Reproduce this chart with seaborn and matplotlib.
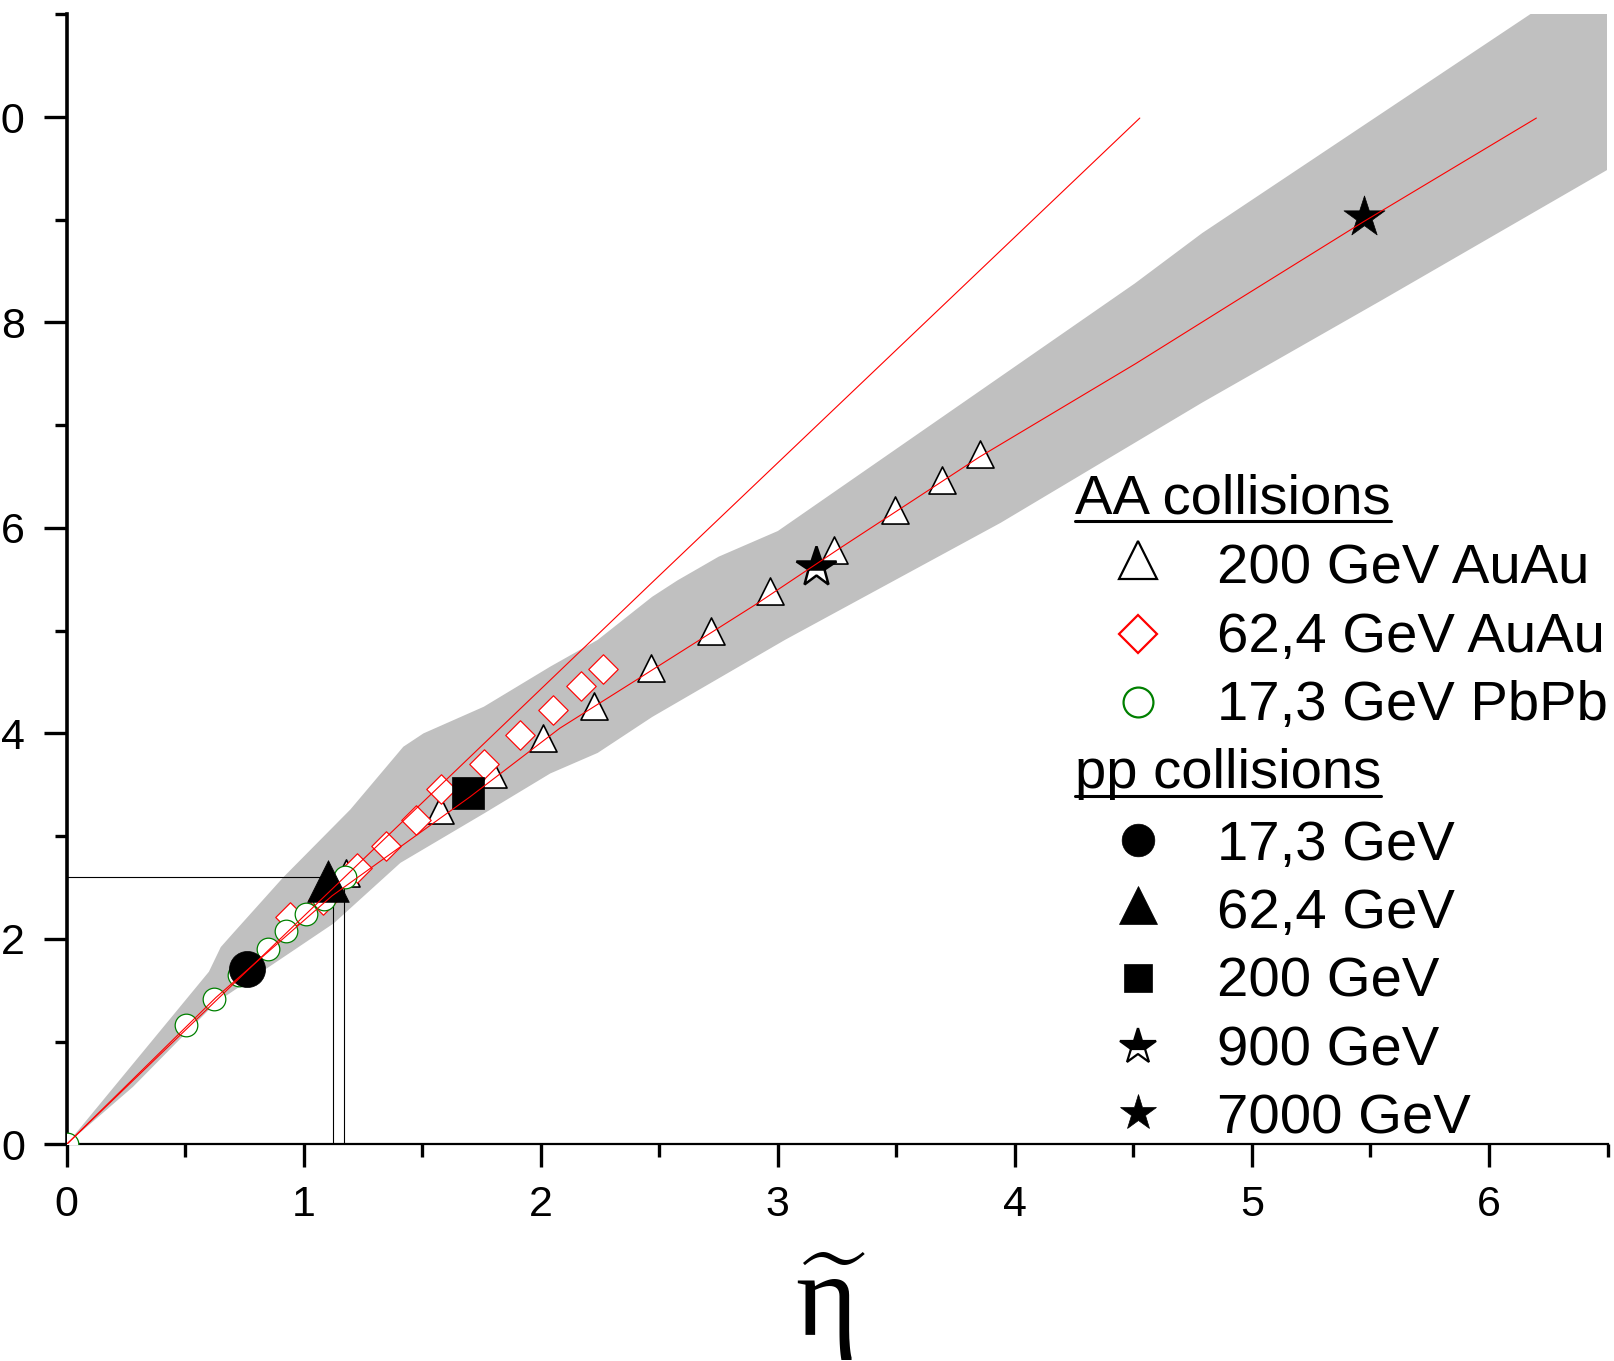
import matplotlib
matplotlib.use("Agg")
import matplotlib.pyplot as plt
import seaborn as sns
from matplotlib.transforms import Affine2D
from matplotlib.lines import Line2D
from matplotlib.ticker import MultipleLocator

# ---------------- data ----------------
band_upper_x = [0.0, 0.60, 0.65, 0.70, 0.914, 1.197, 1.42, 1.505, 1.76, 2.04, 2.24,
                2.47, 2.577, 2.675, 2.75, 3.0, 3.8, 4.506, 4.79, 6.18, 6.6]
band_upper_y = [0.0, 1.68, 1.92, 2.05, 2.60, 3.26, 3.87, 4.00, 4.26, 4.65, 4.91,
                5.33, 5.49, 5.62, 5.72, 5.97, 7.25, 8.38, 8.87, 11.01, 11.6]
band_lower_x = [0.0, 0.28, 0.63, 1.126, 1.408, 1.76, 2.04, 2.24, 2.47, 3.03, 3.94,
                4.79, 5.55, 6.51, 6.6]
band_lower_y = [0.0, 0.56, 1.38, 2.15, 2.74, 3.22, 3.61, 3.81, 4.16, 4.91, 6.05,
                7.22, 8.22, 9.50, 9.62]

fit_steep_x = [0.0, 1.0, 2.47, 4.527]
fit_steep_y = [0.0, 2.22, 5.47, 9.99]

fit_main_x = [0.0, 0.63, 1.12, 1.70, 2.08, 2.41, 2.91, 3.26, 3.85, 4.51, 4.94, 5.47, 6.20]
fit_main_y = [0.0, 1.43, 2.42, 3.38, 4.05, 4.53, 5.26, 5.80, 6.69, 7.60, 8.22, 8.98, 9.99]

ref_vline_x = [1.122, 1.170]
ref_hline_y = 2.60
ref_hline_xmax = 1.17

auau200_x = [1.18, 1.573, 1.797, 2.010, 2.225, 2.467, 2.718, 2.965, 3.236, 3.495, 3.691, 3.854]
auau200_y = [2.645, 3.250, 3.600, 3.956, 4.270, 4.640, 5.000, 5.385, 5.790, 6.173, 6.470, 6.720]

auau62_x = [0.943, 1.080, 1.225, 1.345, 1.475, 1.577, 1.760, 1.912, 2.052, 2.169, 2.263]
auau62_y = [2.213, 2.380, 2.685, 2.900, 3.160, 3.460, 3.700, 3.980, 4.230, 4.460, 4.630]

pbpb17_x = [0.0, 0.504, 0.622, 0.725, 0.849, 0.926, 1.008, 1.084, 1.176]
pbpb17_y = [0.0, 1.166, 1.410, 1.646, 1.900, 2.075, 2.246, 2.390, 2.600]

pp17_x, pp17_y = [0.760], [1.704]
pp62_x, pp62_y = [1.103], [2.561]
pp200_x, pp200_y = [1.695], [3.415]
pp900_x, pp900_y = [3.161], [5.620]
pp7000_x, pp7000_y = [5.471], [9.030]

x_ticks = [0, 1, 2, 3, 4, 5, 6]
y_ticks = [0, 2, 4, 6, 8, 10]

x_label = r"$\widetilde{\eta}$"
header_AA = "AA collisions"
header_pp = "pp collisions"
labels_AA = ["200 GeV AuAu", "62,4 GeV AuAu", "17,3 GeV PbPb"]
labels_pp = ["17,3 GeV", "62,4 GeV", "200 GeV", "900 GeV", "7000 GeV"]

# ---------------- figure ----------------
sns.set_style("ticks")
plt.rcParams["font.family"] = ["Liberation Sans", "DejaVu Sans"]
plt.rcParams["mathtext.fontset"] = "custom"
plt.rcParams["mathtext.it"] = "Liberation Serif"
plt.rcParams["mathtext.rm"] = "Liberation Serif"

W, H = 1614, 1361
fig = plt.figure(figsize=(W / 100, H / 100), dpi=100)
ax = fig.add_axes([66.7 / W, (H - 1144.3) / H, 1540.8 / W, 1130.0 / H])
ax.set_xlim(0, 6.5)
ax.set_ylim(0, 11)

# band
poly_x = band_upper_x + band_lower_x[::-1]
poly_y = band_upper_y + band_lower_y[::-1]
ax.fill(poly_x, poly_y, color="#c0c0c0", lw=0, zorder=1)

# reference black lines
ax.plot([0, ref_hline_xmax], [ref_hline_y, ref_hline_y], color="black", lw=0.8, zorder=2)
for vx in ref_vline_x:
    ax.plot([vx, vx], [0, ref_hline_y], color="black", lw=0.8, zorder=2)

# AA data
sns.scatterplot(x=auau200_x, y=auau200_y, marker="^", s=19.5 ** 2, color="white",
                edgecolor="black", linewidth=1.2, ax=ax, zorder=3, legend=False)
sns.scatterplot(x=auau62_x, y=auau62_y, marker="D", s=15 ** 2, color="white",
                edgecolor="red", linewidth=0.85, ax=ax, zorder=4, legend=False)
sns.scatterplot(x=pbpb17_x, y=pbpb17_y, marker="o", s=16.3 ** 2, color="white",
                edgecolor="green", linewidth=0.9, ax=ax, zorder=5, legend=False)

# pp data
sns.scatterplot(x=pp17_x, y=pp17_y, marker="o", s=26 ** 2, color="black",
                edgecolor="black", linewidth=0.5, ax=ax, zorder=6, legend=False)
sns.scatterplot(x=pp62_x, y=pp62_y, marker="^", s=30 ** 2, color="black",
                edgecolor="black", linewidth=0.5, ax=ax, zorder=6, legend=False)
sns.scatterplot(x=pp200_x, y=pp200_y, marker="s", s=23.5 ** 2, color="black",
                edgecolor="black", linewidth=0.5, ax=ax, zorder=6, legend=False)
ax.plot(pp900_x, pp900_y, ls="none", marker="*", ms=30, mfc="black", mfcalt="white",
        fillstyle="top", mec="black", mew=1.8, zorder=6)
sns.scatterplot(x=pp7000_x, y=pp7000_y, marker="*", s=31 ** 2, color="black",
                edgecolor="black", linewidth=0.5, ax=ax, zorder=6, legend=False)

# fit lines (on top)
sns.lineplot(x=fit_steep_x, y=fit_steep_y, sort=False, estimator=None, color="red",
             lw=0.8, ax=ax, zorder=10)
sns.lineplot(x=fit_main_x, y=fit_main_y, sort=False, estimator=None, color="red",
             lw=0.8, ax=ax, zorder=10)

# axes styling
sns.despine(ax=ax)
ax.spines["left"].set_linewidth(2.6)
ax.spines["bottom"].set_linewidth(1.6)
ax.spines["left"].set_color("black")
ax.spines["bottom"].set_color("black")
ax.set_xticks(x_ticks)
ax.set_yticks(y_ticks)
ax.xaxis.set_minor_locator(MultipleLocator(0.5))
ax.yaxis.set_minor_locator(MultipleLocator(1))
ax.tick_params(which="major", length=16.5, width=2.4, color="black", labelsize=31,
               labelcolor="black")
ax.tick_params(which="minor", length=9, width=2.4, color="black")
ax.tick_params(axis="x", which="major", pad=13)
ax.tick_params(axis="y", which="major", pad=13.5)
ax.set_ylabel("")

# x label (eta with tilde)
ax.set_xlabel(x_label, fontsize=85, color="black")
ax.xaxis.set_label_coords((831 - 66.7) / 1540.8, (1144.3 - 1250) / 1130.0)

# ---------------- legend (manual) ----------------
pix = Affine2D().scale(1, -1).translate(0, H)
mx = 1138
tx = 1217
hx = 1075
LFS = 40.5

def lg_marker(y, **kw):
    ax.add_line(Line2D([mx], [y], transform=pix, ls="none", clip_on=False, **kw))

def lg_text(x, y, s):
    return fig.text(x / W, 1 - y / H, s, ha="left", va="baseline", fontsize=LFS,
                    color="black")

hdr_AA = lg_text(hx, 513.3, header_AA)
lg_marker(559.7, marker="^", ms=27.5, mfc="white", mec="black", mew=1.6)
lg_text(tx, 583.3, labels_AA[0])
lg_marker(633.7, marker="D", ms=19.5, mfc="white", mec="red", mew=1.6)
lg_text(tx, 651.7, labels_AA[1])
lg_marker(701.7, marker="o", ms=21.5, mfc="white", mec="green", mew=1.6)
lg_text(tx, 720.0, labels_AA[2])

hdr_pp = lg_text(hx, 788.3, header_pp)
lg_marker(840.0, marker="o", ms=23.5, mfc="black", mec="black", mew=0.5)
lg_text(tx, 860.0, labels_pp[0])
lg_marker(904.7, marker="^", ms=27.5, mfc="black", mec="black", mew=0.5)
lg_text(tx, 928.3, labels_pp[1])
lg_marker(977.7, marker="s", ms=20, mfc="black", mec="black", mew=0.5)
lg_text(tx, 996.7, labels_pp[2])
lg_marker(1046.7, marker="*", ms=27, mfc="black", mfcalt="white", fillstyle="top",
          mec="black", mew=1.6)
lg_text(tx, 1065.0, labels_pp[3])
lg_marker(1113.3, marker="*", ms=27, mfc="black", mec="black", mew=0.5)
lg_text(tx, 1133.3, labels_pp[4])

fig.canvas.draw()
rend = fig.canvas.get_renderer()
for t, base in [(hdr_AA, 513.3), (hdr_pp, 788.3)]:
    bb = t.get_window_extent(rend)
    yline = base + 7.4
    fig.add_artist(Line2D([bb.x0, bb.x1], [yline, yline], transform=pix,
                          color="black", lw=2.2))

fig.savefig("out.png", dpi=100)
